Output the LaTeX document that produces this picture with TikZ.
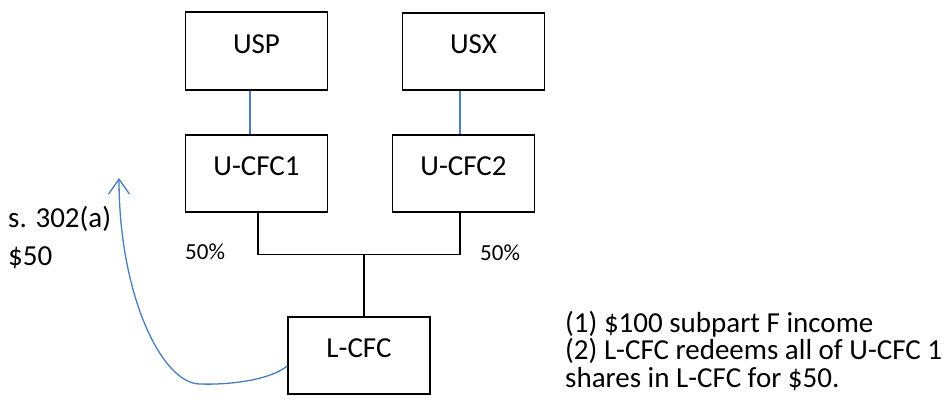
\documentclass[tikz,border=0pt]{standalone}
\usepackage{fontspec}
\setmainfont{Carlito}
\usetikzlibrary{calc,arrows.meta}
\definecolor{lnblue}{HTML}{4A7EBB}
\begin{document}
\begin{tikzpicture}[x=1pt,y=-1pt,
  box/.style={draw=black,line width=1.6pt,minimum width=142pt,minimum height=77.5pt,
    inner sep=0pt,text height=18pt,text depth=14pt,font=\fontsize{29pt}{31pt}\selectfont},
  lbl/.style={anchor=base west,inner sep=0pt,font=\fontsize{29pt}{31pt}\selectfont},
  pct/.style={anchor=base west,inner sep=0pt,font=\fontsize{23pt}{25pt}\selectfont},
  own/.style={draw=black,line width=1.6pt},
  blueln/.style={draw=lnblue,line width=1.3pt}]
\useasboundingbox (0,0) rectangle (949,400);
\node[box] (usp) at (256.5,51) {USP};
\node[box] (usx) at (473.5,51.5) {USX};
\node[box] (ucfc1) at (256.5,173.5) {U-CFC1};
\node[box] (ucfc2) at (463.5,173.5) {U-CFC2};
\node[box] (lcfc) at (359,355.5) {L-CFC};
\coordinate (j) at (364,254.5);
\draw[blueln] ($(usp.south)+(-6.5,0)$) -- ($(ucfc1.north)+(-6.5,0)$);
\draw[blueln] ($(usx.south)+(-13.5,0)$) -- ($(ucfc2.north)+(-3.5,0)$);
\draw[own] ($(ucfc1.south)+(1.5,0)$) |- (j);
\draw[own] ($(ucfc2.south)+(-3.5,0)$) |- (j);
\draw[own] (j) -- (lcfc.north -| j);
\node[pct] (p1) at (185,259) {50\%};
\node[pct] (p2) at (480,260) {50\%};
\node[lbl] (s302) at (8,227) {s. 302(a)};
\node[lbl] (d50) at (8,265) {\$50};
\coordinate (tip) at (119,178);
\draw[blueln,-{Straight Barb[length=15pt,width=21pt]}] ($(lcfc.west)+(0,10.5)$) .. controls (270,380) and (230,385) .. (200,384) .. controls (162,384) and (119,295) .. (tip);
\node[lbl] (n1) at (565,332) {(1) \$100 subpart F income};
\node[lbl] (n2) at (565,359.5) {(2) L-CFC redeems all of U-CFC 1};
\node[lbl] (n3) at (565,387) {shares in L-CFC for \$50.};
\end{tikzpicture}
\end{document}
